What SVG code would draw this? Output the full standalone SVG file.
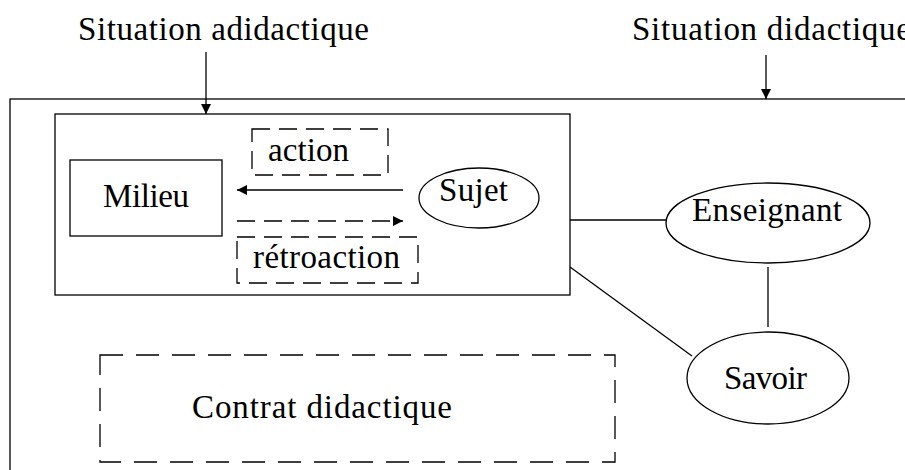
<svg xmlns="http://www.w3.org/2000/svg" width="905" height="470" viewBox="0 0 905 470">
<style>
text{font-family:"Liberation Serif","Times New Roman",serif;font-size:33px;fill:#000}
.s{fill:none;stroke:#000;stroke-width:1.3}
.d{fill:none;stroke:#000;stroke-width:1.3;stroke-dasharray:18 9}
.dl{fill:none;stroke:#000;stroke-width:1.3;stroke-dasharray:23 13}
</style>
<defs>
<marker id="ah" viewBox="0 0 10 10" refX="10" refY="5" markerWidth="10" markerHeight="10" markerUnits="userSpaceOnUse" orient="auto">
<path d="M0,0 L10,5 L0,10 Z" fill="#000"/>
</marker>
</defs>
<rect width="905" height="470" fill="#fff"/>
<g id="situation-didactique">
<rect class="s" x="10" y="99" width="905" height="390"/>
</g>
<g id="label-adidactique"><text x="78" y="40" textLength="291" lengthAdjust="spacing">Situation adidactique</text></g>
<g id="label-didactique"><text x="632" y="40" textLength="279" lengthAdjust="spacing">Situation didactique</text></g>
<g id="situation-adidactique">
<rect class="s" x="55" y="114" width="515" height="181"/>
</g>
<g id="milieu">
<rect class="s" x="70" y="160" width="152" height="76"/>
<text x="103" y="207" textLength="86" lengthAdjust="spacing">Milieu</text>
</g>
<g id="action">
<rect class="d" x="252" y="129" width="136" height="46"/>
<text x="268" y="161" textLength="81" lengthAdjust="spacing">action</text>
</g>
<g id="sujet">
<ellipse class="s" cx="479" cy="198" rx="60" ry="30"/>
<text x="439" y="201" textLength="69" lengthAdjust="spacing">Sujet</text>
</g>
<g id="retroaction">
<rect class="d" x="237" y="237" width="181" height="46"/>
<text x="253" y="268" textLength="147" lengthAdjust="spacing">rétroaction</text>
</g>
<g id="enseignant">
<ellipse class="s" cx="768" cy="223" rx="102" ry="40"/>
<text x="692" y="221" textLength="150" lengthAdjust="spacing">Enseignant</text>
</g>
<g id="savoir">
<ellipse class="s" cx="768" cy="378" rx="81" ry="46"/>
<text x="724" y="389" textLength="83" lengthAdjust="spacing">Savoir</text>
</g>
<g id="contrat">
<rect class="dl" x="100" y="355" width="515" height="107"/>
<text x="192" y="418" textLength="260" lengthAdjust="spacing">Contrat didactique</text>
</g>
<g id="connectors">
<line class="s" x1="206" y1="52" x2="206" y2="114" marker-end="url(#ah)"/>
<line class="s" x1="766" y1="55" x2="766" y2="99" marker-end="url(#ah)"/>
<line class="s" x1="403" y1="190" x2="237" y2="190" marker-end="url(#ah)"/>
<line class="d" x1="237" y1="221" x2="403" y2="221" marker-end="url(#ah)"/>
<line class="s" x1="570" y1="220" x2="666" y2="220"/>
<line class="s" x1="768" y1="267" x2="768" y2="327"/>
<line class="s" x1="570" y1="267" x2="692" y2="356"/>
</g>
</svg>
